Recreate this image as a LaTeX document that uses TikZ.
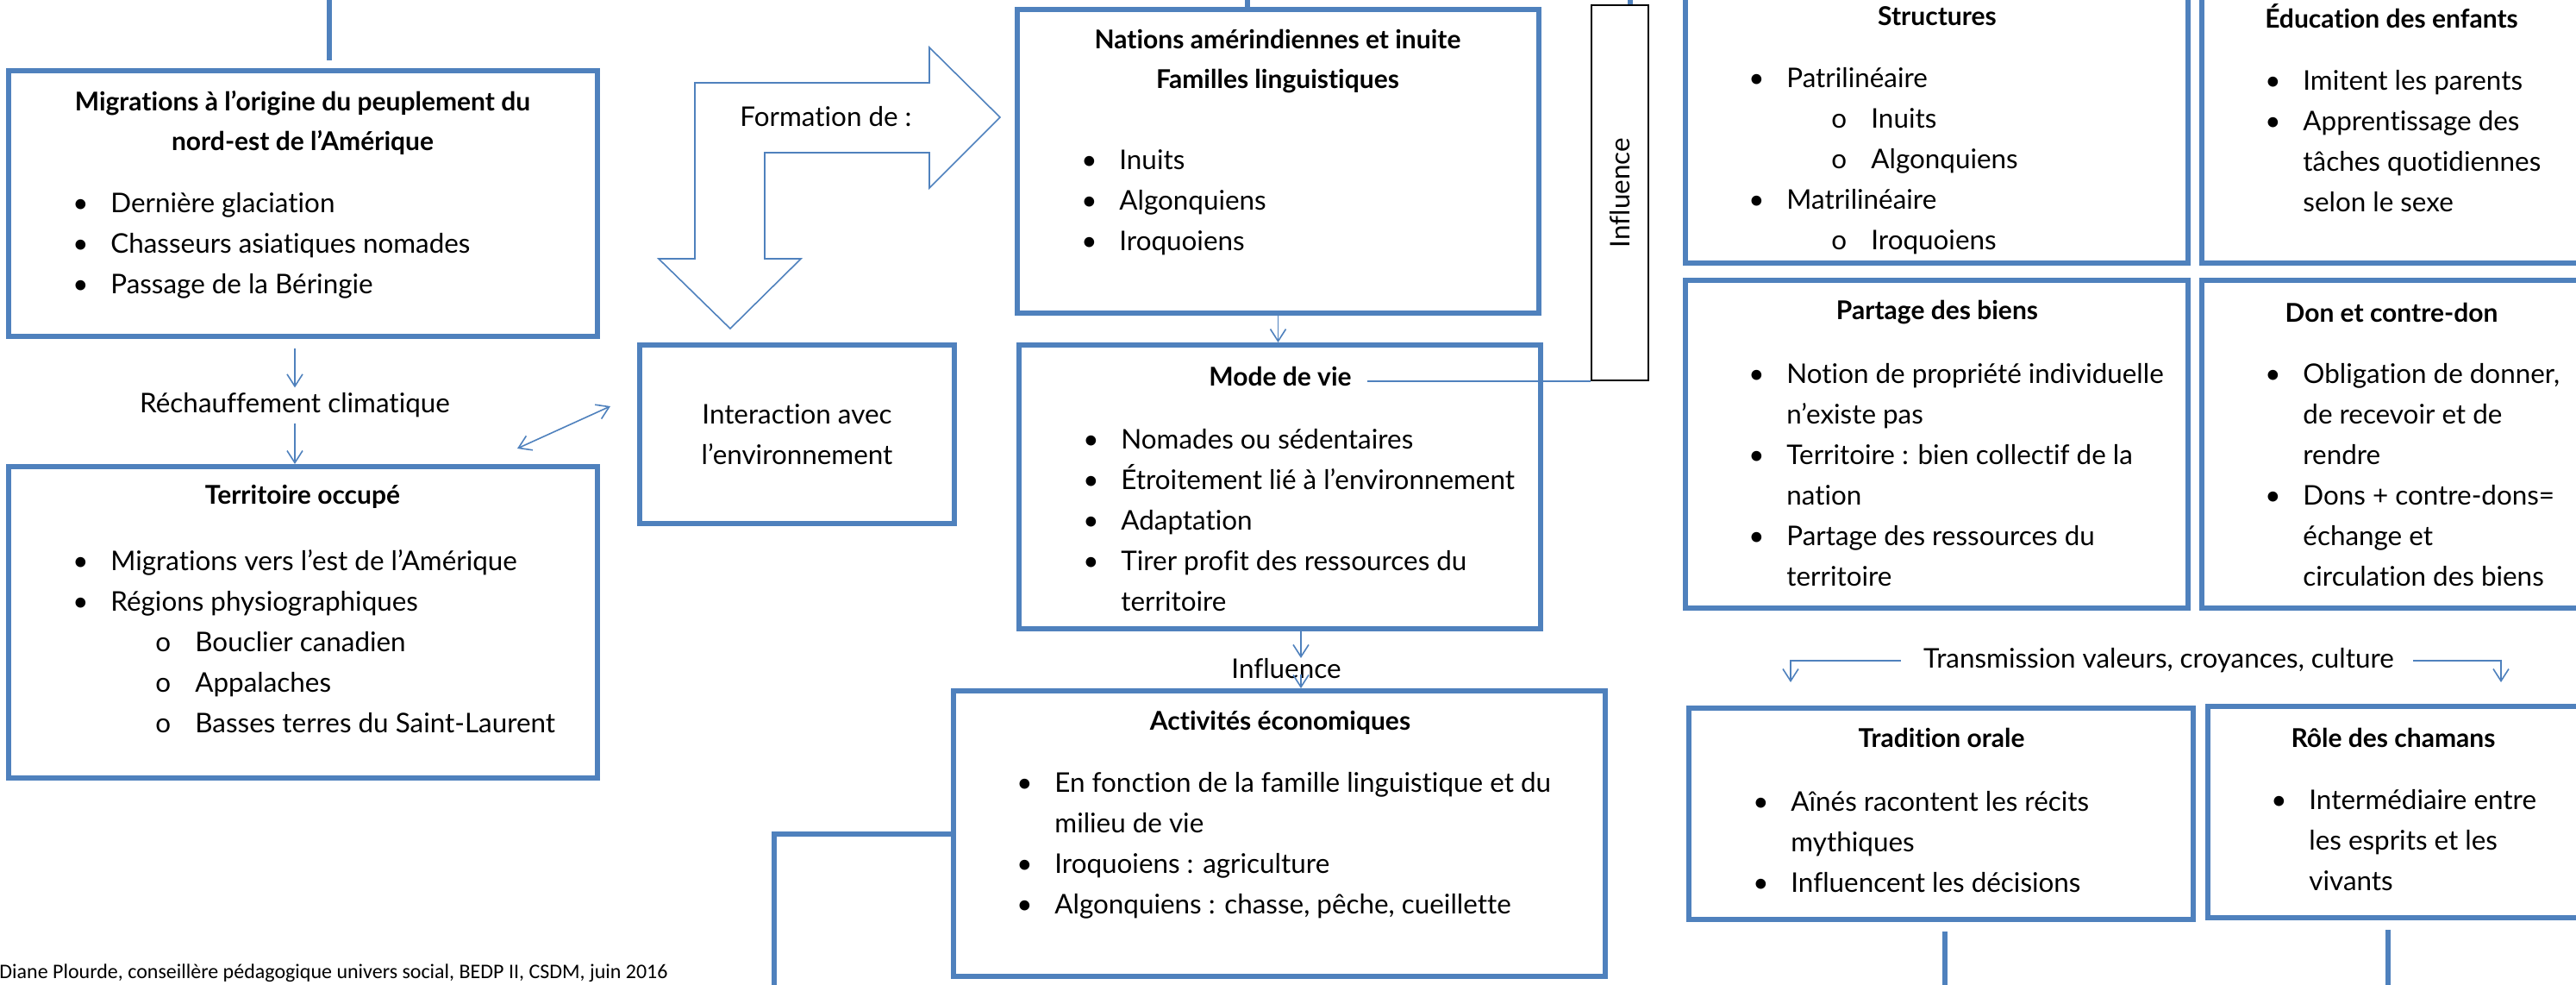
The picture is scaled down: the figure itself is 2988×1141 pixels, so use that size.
\documentclass[tikz,border=0pt]{standalone}
\usepackage{fontspec}
\setmainfont{Lato}[Ligatures=NoCommon]
\newfontfamily\notefont{Carlito}
\usetikzlibrary{arrows.meta,fit}
\definecolor{boxblue}{HTML}{4F81BD}
\newcommand{\bl}[1]{\makebox[22pt][l]{\textbullet}#1}
\newcommand{\sbl}[1]{\hspace*{48pt}\makebox[23pt][l]{o}#1}
\newcommand{\cl}[1]{\hspace*{22pt}#1}

\begin{document}
\begin{tikzpicture}[x=0.5pt,y=-0.5pt,
    every node/.style={inner sep=0pt, font=\fontsize{15.7}{23.5}\selectfont},
    box/.style={draw=boxblue, line width=3pt, inner sep=0pt},
    ttl/.style={font=\fontsize{15}{23}\selectfont\bfseries, align=center},
    lst/.style={anchor=west, align=left},
    link/.style={draw=boxblue, line width=0.8pt},
    arr/.style={link, -{Straight Barb[length=7pt,width=9pt]}},
    darr/.style={link, {Straight Barb[length=7pt,width=9pt]}-{Straight Barb[length=7pt,width=9pt]}},
    trunk/.style={draw=boxblue, line width=3pt}]
  \useasboundingbox (0,0) rectangle (2988,1141);

  \node[box, fit={(10,82) (693,390)}] (migr) {};
  \node[ttl] at (351,142) {Migrations à l’origine du peuplement du\\nord-est de l’Amérique};
  \node[lst] at (84,285) {\bl{Dernière glaciation}\\\bl{Chasseurs asiatiques nomades}\\\bl{Passage de la Béringie}};
  \node[inner ysep=3pt] (rech) at (342,470) {Réchauffement climatique};
  \node[box, fit={(10,541) (693,902)}] (terr) {};
  \node[ttl] at (351,576) {Territoire occupé};
  \node[lst] at (84,744) {\bl{Migrations vers l’est de l’Amérique}\\\bl{Régions physiographiques}\\
    \sbl{Bouclier canadien}\\\sbl{Appalaches}\\\sbl{Basses terres du Saint-Laurent}};

  \draw[link] (847,381) -- (764,300) -- (806,300) -- (806,96) -- (1078,96) -- (1078,55) -- (1160,136)
    -- (1078,218) -- (1078,177) -- (887,177) -- (887,300) -- (929,300) -- cycle;
  \node at (958,135) {Formation de :};
  \node[box, fit={(742,400) (1107,607)}] (inter) {};
  \node[align=center] at (inter.center) {Interaction avec\\l’environnement};

  \node[box, fit={(1180,11) (1785,363)}] (nations) {};
  \node[ttl] at (1482,71) {Nations amérindiennes et inuite\\Familles linguistiques};
  \node[lst] at (1254,235) {\bl{Inuits}\\\bl{Algonquiens}\\\bl{Iroquoiens}};
  \node[box, fit={(1182,400) (1787,729)}] (mode) {};
  \node[ttl] (modeT) at (1485,436) {Mode de vie};
  \node[lst] at (1256,603) {\bl{Nomades ou sédentaires}\\\bl{Étroitement lié à l’environnement}\\
    \bl{Adaptation}\\\bl{Tirer profit des ressources du}\\\cl{territoire}};
  \node (infT) at (1492,775) {Influence};
  \node[box, fit={(1106,801) (1862,1132)}] (activ) {};
  \node[ttl] at (1485,838) {Activités économiques};
  \node[lst] at (1179,980) {\bl{En fonction de la famille linguistique et du}\\\cl{milieu de vie}\\
    \bl{Iroquoiens : agriculture}\\\bl{Algonquiens : chasse, pêche, cueillette}};
  \node[draw=black, line width=0.8pt, fit={(1846,6) (1912,441)}] (influ) {};
  \node[rotate=90] at (influ.center) {Influence};

  \node[box, fit={(1955,-20) (2538,305)}] (struct) {};
  \node[ttl] at (2247,19) {Structures};
  \node[lst] at (2028,187) {\bl{Patrilinéaire}\\\sbl{Inuits}\\\sbl{Algonquiens}\\\bl{Matrilinéaire}\\\sbl{Iroquoiens}};
  \node[box, fit={(2554,-20) (2994,305)}] (educ) {};
  \node[ttl] at (2774,19) {Éducation des enfants};
  \node[lst] at (2627,164) {\bl{Imitent les parents}\\\bl{Apprentissage des}\\\cl{tâches quotidiennes}\\\cl{selon le sexe}};
  \node[box, fit={(1955,325) (2538,705)}] (partage) {};
  \node[ttl] at (2247,362) {Partage des biens};
  \node[lst] at (2028,551) {\bl{Notion de propriété individuelle}\\\cl{n’existe pas}\\
    \bl{Territoire : bien collectif de la}\\\cl{nation}\\\bl{Partage des ressources du}\\\cl{territoire}};
  \node[box, fit={(2554,325) (2994,705)}] (don) {};
  \node[ttl] at (2774,362) {Don et contre-don};
  \node[lst] at (2627,551) {\bl{Obligation de donner,}\\\cl{de recevoir et de}\\\cl{rendre}\\
    \bl{Dons + contre-dons=}\\\cl{échange et}\\\cl{circulation des biens}};
  \node (trans) at (2504,766) {Transmission valeurs, croyances, culture};
  \node[box, fit={(1959,821) (2544,1066)}] (trad) {};
  \node[ttl] at (2252,855) {Tradition orale};
  \node[lst] at (2033,976) {\bl{Aînés racontent les récits}\\\cl{mythiques}\\\bl{Influencent les décisions}};
  \node[box, fit={(2561,819) (2994,1064)}] (role) {};
  \node[ttl] at (2776,855) {Rôle des chamans};
  \node[lst] at (2634,974) {\bl{Intermédiaire entre}\\\cl{les esprits et les}\\\cl{vivants}};

  \node[anchor=base west, font=\notefont\fontsize{12}{14}\selectfont] (note) at (-1,1134)
    {Diane Plourde, conseillère pédagogique univers social, BEDP II, CSDM, juin 2016};

  \coordinate (da1) at (600,520);
  \coordinate (da2) at (708,471);
  \coordinate (inf) at (1509,782);
  \coordinate (tl) at (2077,791);
  \coordinate (tr) at (2901,791);
  \draw[arr] ([yshift=-5.5pt]migr.south -| rech.north) -- (rech.north);
  \draw[arr] (rech.south) -- (terr.north -| rech.south);
  \draw[darr] (da1) -- (da2);
  \draw[arr] (nations.south) -- (nations.south |- mode.north);
  \draw[link] (influ.south west) -- ([xshift=9pt]influ.south west -| modeT.east);
  \draw[arr] (mode.south -| inf) -- (infT.north -| inf);
  \draw[arr] (inf) -- (activ.north -| inf);
  \draw[arr] ([xshift=-13pt]trans.west) -| (tl);
  \draw[arr] ([xshift=11pt]trans.east) -| (tr);

  \draw[trunk] (382,0) -- ([yshift=4.5pt]migr.north -| 382,0);
  \draw[trunk] (1447,0) -- (nations.north -| 1447,0);
  \draw[trunk] (1891,0) -- (influ.north -| 1891,0);
  \draw[trunk] (activ.west) -| (898,1150);
  \draw[trunk] ([yshift=-5.5pt]trad.south -| 2256,0) -- (2256,1150);
  \draw[trunk] ([yshift=-5.5pt]role.south -| 2770,0) -- (2770,1150);
\end{tikzpicture}
\end{document}
